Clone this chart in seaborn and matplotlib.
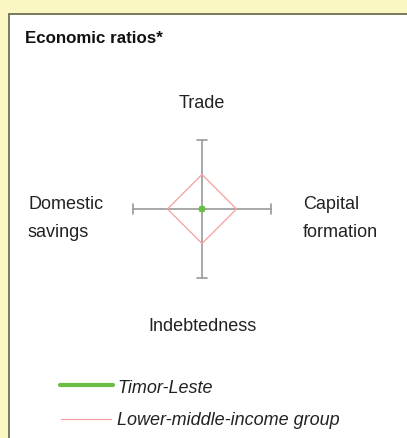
import numpy as np
import pandas as pd
import matplotlib
matplotlib.use("Agg")
import matplotlib.pyplot as plt
import seaborn as sns
from matplotlib.patches import Rectangle
from matplotlib.lines import Line2D

# Achsen des Diagramms (oben, rechts, unten, links)
ACHSEN = ["Trade", "Capital\nformation", "Indebtedness", "Domestic\nsavings"]
WINKEL = [90, 0, -90, 180]

# Werte relativ zur Achsenlänge
TIMOR_LESTE = [0.0, 0.0, 0.0, 0.0]
LOWER_MIDDLE = [0.5, 0.5, 0.5, 0.5]

SERIEN = ["Timor-Leste", "Lower-middle-income group"]

W, H = 407, 438
GELB = "#FBF7C3"
RAND = "#6E6E55"
GRUEN = "#6BBE45"
ROSA = "#F4A0A0"
GRAU = "#9A9A9A"


def px(x, y):
    return x / W, 1 - y / H


def polygon(werte):
    w = np.deg2rad(WINKEL)
    v = np.array(werte)
    x = v * np.cos(w)
    y = v * np.sin(w)
    return pd.DataFrame({"x": np.append(x, x[0]), "y": np.append(y, y[0])})


def label(x, y, text, ha):
    # mehrzeilige Labels zeilenweise setzen (Zeilenabstand 28 px)
    for i, zeile in enumerate(text.split("\n")):
        fig.text(*px(x, y + 28 * i), zeile, ha=ha, va="baseline",
                 fontsize=13, color="#222222")


sns.set_theme(style="white")
plt.rcParams["font.family"] = ["Liberation Sans", "DejaVu Sans"]

fig = plt.figure(figsize=(W / 100, H / 100), dpi=100, facecolor=GELB)

# weisses Panel mit Rahmen
fig.add_artist(Rectangle(px(9, 440), (W + 5) / W, (440 - 14) / H,
                         transform=fig.transFigure, facecolor="white",
                         edgecolor=RAND, linewidth=1.3, zorder=0))

# Achsenbereich um den Mittelpunkt (202, 209), Radius 69 px
cx, cy, r = 202, 209, 69
l, b = px(cx - r, cy + r)
ax = fig.add_axes([l, b, 2 * r / W, 2 * r / H])
ax.patch.set_alpha(0)

cap = 0.072
for wk in WINKEL:
    t = np.deg2rad(wk)
    ex, ey = np.cos(t), np.sin(t)
    ax.plot([0, ex], [0, ey], color=GRAU, lw=1.2, clip_on=False, zorder=1)
    ax.plot([ex - cap * ey, ex + cap * ey], [ey - cap * ex, ey + cap * ex],
            color=GRAU, lw=1.2, clip_on=False, zorder=1)

grp = polygon(LOWER_MIDDLE)
sns.lineplot(data=grp, x="x", y="y", sort=False, estimator=None,
             color=ROSA, lw=0.9, ax=ax, zorder=2)
tl = polygon(TIMOR_LESTE)
sns.lineplot(data=tl, x="x", y="y", sort=False, estimator=None,
             color=GRUEN, lw=3, ax=ax, zorder=3)
sns.scatterplot(data=tl, x="x", y="y", color=GRUEN, s=22,
                edgecolor="none", ax=ax, zorder=4, clip_on=False)
ax.set_xlim(-1, 1)
ax.set_ylim(-1, 1)
ax.axis("off")

# Titel
fig.text(*px(25, 43), "Economic ratios*", fontsize=12.2, fontweight="bold",
         ha="left", va="baseline", color="#111111")

# Achsenbeschriftungen
label(202, 108, ACHSEN[0], "center")
label(303, 209, ACHSEN[1], "left")
label(202, 331, ACHSEN[2], "center")
label(28, 209, ACHSEN[3], "left")

# Legende
x0, y0 = px(60, 385)
x1, _ = px(113, 385)
fig.add_artist(Line2D([x0, x1], [y0, y0], transform=fig.transFigure,
                      color=GRUEN, lw=3, solid_capstyle="round"))
x0, y1 = px(61, 418.5)
x1, _ = px(111, 418.5)
fig.add_artist(Line2D([x0, x1], [y1, y1], transform=fig.transFigure,
                      color=ROSA, lw=0.9))
fig.text(*px(117, 393), SERIEN[0], fontsize=13, style="italic",
         ha="left", va="baseline", color="#222222")
fig.text(*px(117, 425), SERIEN[1], fontsize=13, style="italic",
         ha="left", va="baseline", color="#222222")

fig.savefig("out.png", dpi=100, facecolor=GELB)
